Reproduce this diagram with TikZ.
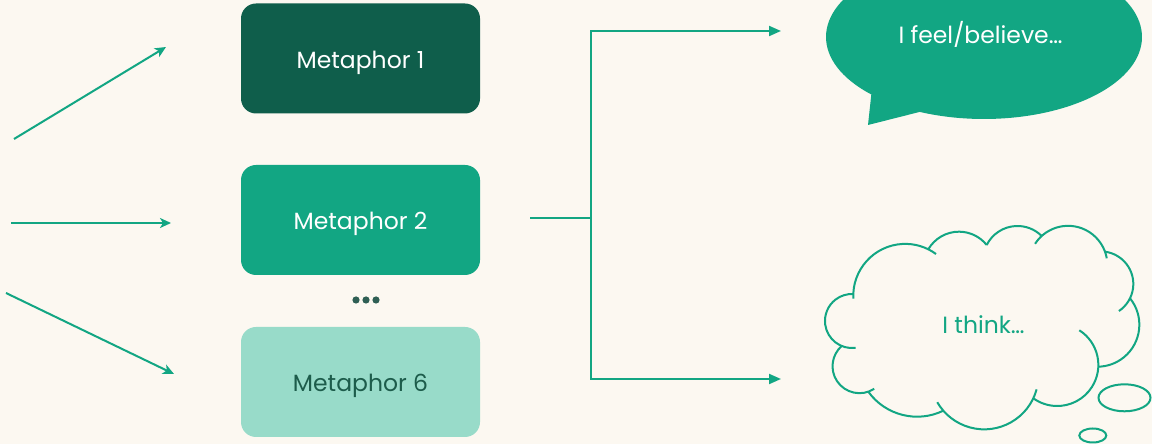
\documentclass[tikz,border=0pt]{standalone}
\usepackage{fontspec}
\setmainfont{Poppins}
\usetikzlibrary{arrows.meta}
\definecolor{bg}{HTML}{FCF8F1}
\definecolor{gmain}{HTML}{12A683}
\definecolor{gdark}{HTML}{0F5E4B}
\definecolor{glight}{HTML}{98DBC9}
\definecolor{dotc}{HTML}{2F5F54}
\definecolor{txtdark}{HTML}{1D5C4B}
\newcommand\cloudlobe[8]{%
 \edef\lAx{#1}\edef\lAy{\fpeval{444-(#2)}}%
 \edef\lBx{#3}\edef\lBy{\fpeval{444-(#4)}}%
 \edef\lCx{#5}\edef\lCy{\fpeval{444-(#6)}}%
 \edef\lD{\fpeval{2*(\lAx*(\lBy-\lCy)+\lBx*(\lCy-\lAy)+\lCx*(\lAy-\lBy))}}%
 \edef\lUx{\fpeval{round(((\lAx^2+\lAy^2)*(\lBy-\lCy)+(\lBx^2+\lBy^2)*(\lCy-\lAy)+(\lCx^2+\lCy^2)*(\lAy-\lBy))/\lD,3)}}%
 \edef\lUy{\fpeval{round(((\lAx^2+\lAy^2)*(\lCx-\lBx)+(\lBx^2+\lBy^2)*(\lAx-\lCx)+(\lCx^2+\lCy^2)*(\lBx-\lAx))/\lD,3)}}%
 \edef\lRad{\fpeval{round(sqrt((\lAx-\lUx)^2+(\lAy-\lUy)^2),3)}}%
 \edef\lSa{\fpeval{atand(\lAy-\lUy,\lAx-\lUx)}}%
 \edef\lEa{\fpeval{atand(\lCy-\lUy,\lCx-\lUx)}}%
 \edef\lEa{\fpeval{\lEa>=\lSa ? \lEa-360 : \lEa}}%
 \edef\lSa{\fpeval{round(\lSa+(#7),3)}}%
 \edef\lEa{\fpeval{round(\lEa-(#8),3)}}%
 \draw[cloudline] (\lUx pt,\lUy pt) ++(\lSa:\lRad pt) arc[start angle=\lSa, end angle=\lEa, radius=\lRad pt];%
}
\tikzset{
  metabox/.style={rounded corners=15pt, minimum width=239pt, minimum height=110pt, inner sep=0pt,
     text height=19.4pt, text depth=0pt, font=\fontsize{23.5}{28}\selectfont},
  arrowL/.style={draw=gmain, line width=2pt, -{Stealth[length=11pt,width=10pt,inset=3pt]}},
  arrowR/.style={draw=gmain, line width=2pt, -{Triangle[length=12pt,width=10pt]}},
  plainline/.style={draw=gmain, line width=2pt},
  cloudline/.style={draw=gmain, line width=2pt},
  bigtext/.style={font=\fontsize{23.5}{28}\selectfont, inner sep=0pt, anchor=base}
}
\begin{document}
\begin{tikzpicture}[x=1pt,y=1pt]
\fill[bg] (0,0) rectangle (1152,444);
\clip (0,0) rectangle (1152,444);
% boxes
\node[metabox, fill=gdark, text=white] (m1) at (360.5,385.5) {Metaphor 1};
\node[metabox, fill=gmain, text=white] (m2) at (360.5,224) {Metaphor 2};
\node[metabox, fill=glight, text=txtdark] (m6) at (360.5,62) {Metaphor 6};
% dots
\foreach \i/\xx in {a/356,b/366,c/376}{\fill[dotc] (\xx,144) circle (3.6pt);}
% left arrows
\coordinate (l1s) at (14,305); \coordinate (l1e) at (166,397);
\coordinate (l2s) at (11,221); \coordinate (l2e) at (171,221);
\coordinate (l3s) at (6,151);  \coordinate (l3e) at (174,70);
\draw[arrowL] (l1s) -- (l1e);
\draw[arrowL] (l2s) -- (l2e);
\draw[arrowL] (l3s) -- (l3e);
% right connector
\coordinate (src) at (530,226);
\coordinate (jn) at (590.5,226);
\coordinate (tTop) at (781,413);
\coordinate (tBot) at (781,65);
\draw[plainline] (src) -- (jn);
\draw[arrowR] (jn) |- (tTop);
\draw[arrowR] (jn) |- (tBot);
% speech bubble
\fill[gmain] (868,319) -- ({984+158*cos(224.5)},{407+82*sin(224.5)})
   arc[start angle=224.5, end angle=-114, x radius=158pt, y radius=82pt] -- cycle;
\node[bigtext, text=white] (feel) at (980.5,400.7) {I feel/believe…};
% thought cloud
\cloudlobe{841.7}{346}{825}{320}{853.3}{294}{30}{0}
\cloudlobe{853.3}{294}{901.7}{244}{928.3}{249.3}{5}{10}
\cloudlobe{928.3}{249.3}{960}{231.7}{986.7}{245}{0}{0}
\cloudlobe{986.7}{245}{1016.7}{226}{1041.7}{236}{0}{0}
\cloudlobe{1041.7}{236}{1071.7}{226}{1105}{251.7}{15}{10}
\cloudlobe{1105}{251.7}{1133.3}{283.3}{1130}{298.3}{0}{30}
\cloudlobe{1130}{298.3}{1139.3}{326.7}{1098.3}{366.7}{0}{0}
\cloudlobe{1098.3}{366.7}{1083.3}{396.7}{1033.3}{398.3}{60}{0}
\cloudlobe{1033.3}{398.3}{986.7}{429.3}{943.3}{410.7}{10}{11}
\cloudlobe{943.3}{410.7}{916.7}{416.7}{868.3}{391.7}{0}{0}
\cloudlobe{868.3}{391.7}{832.7}{363.3}{841.7}{346}{14}{0}
\node[bigtext, text=gmain] (think) at (983.5,110.7) {I think…};
\draw[cloudline] (1124.5,46.2) ellipse[x radius=26pt, y radius=13.5pt];
\draw[cloudline] (1092.8,8.5) ellipse[x radius=13.5pt, y radius=7pt];
\end{tikzpicture}
\end{document}
